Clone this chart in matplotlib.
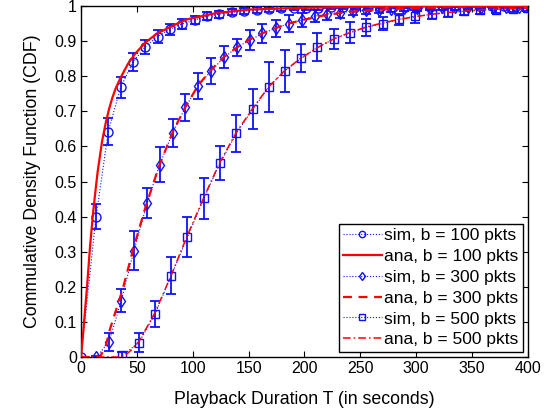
import numpy as np
import matplotlib
matplotlib.use('Agg')
import matplotlib.pyplot as plt

plt.rcParams['font.family'] = ['Liberation Sans', 'DejaVu Sans']

##Simulation points (mean CDF and half-width of error bar), b = 100 pkts
sim100_x = [0, 13.5, 24.4, 35.4, 46.5, 57.6, 68.5, 79.6, 90.7, 101.7, 112.8, 123.9,
            135.0, 146.0, 157.1, 168.2, 179.2, 190.3, 201.4, 212.4, 223.5, 234.6,
            245.6, 256.7, 267.8, 278.8, 289.9, 301.0, 312.0, 323.1, 334.2, 345.2,
            356.3, 367.4, 378.4, 389.5]
sim100_y = [0.0, 0.40, 0.642, 0.768, 0.84, 0.884, 0.913, 0.934, 0.949, 0.96, 0.971, 0.977,
            0.982, 0.986, 0.989, 0.991, 0.993, 0.994, 0.995, 0.995, 0.996, 0.996,
            0.997, 0.997, 0.997, 0.998, 0.998, 0.998, 0.998, 0.999, 0.999, 0.999,
            0.999, 0.999, 0.999, 0.999]
sim100_err = [0.0, 0.035, 0.038, 0.03, 0.026, 0.02, 0.018, 0.016, 0.014, 0.012, 0.011, 0.01,
              0.009, 0.008, 0.008, 0.007, 0.007, 0.006, 0.006, 0.006, 0.005, 0.005,
              0.005, 0.005, 0.004, 0.004, 0.004, 0.004, 0.004, 0.003, 0.003, 0.003,
              0.003, 0.003, 0.003, 0.003]

##b = 300 pkts
sim300_x = [13.7, 24.9, 36.0, 47.3, 59.2, 70.4, 82.0, 93.4, 105.0, 116.6, 128.2, 139.8,
            151.4, 162.4, 174.1, 186.0, 197.5, 209.2, 220.2, 232.0, 243.6, 255.0, 266.4,
            277.8, 289.2, 300.6, 312.0, 323.4, 334.8, 346.2, 357.6, 369.0, 380.4, 391.8]
sim300_y = [0.0, 0.042, 0.16, 0.303, 0.438, 0.548, 0.639, 0.711, 0.773, 0.816, 0.854, 0.883,
            0.903, 0.922, 0.936, 0.95, 0.96, 0.971, 0.977, 0.981, 0.986, 0.988, 0.99,
            0.992, 0.993, 0.994, 0.995, 0.996, 0.996, 0.997, 0.997, 0.998, 0.998, 0.998]
sim300_err = [0.003, 0.025, 0.033, 0.056, 0.043, 0.05, 0.04, 0.039, 0.037, 0.037, 0.031, 0.024,
              0.028, 0.027, 0.024, 0.024, 0.02, 0.017, 0.016, 0.014, 0.012, 0.011, 0.01,
              0.009, 0.008, 0.008, 0.007, 0.006, 0.006, 0.005, 0.005, 0.005, 0.004, 0.004]

##b = 500 pkts
sim500_x = [37.1, 51.8, 66.2, 80.8, 95.3, 110.0, 124.3, 139.1, 154.0, 168.3, 182.2, 197.2,
            211.6, 226.2, 240.6, 255.2, 269.9, 284.6, 299.2, 313.8, 328.0, 342.3, 357.3,
            371.6, 386.3, 399.0]
sim500_y = [0.005, 0.041, 0.122, 0.232, 0.342, 0.452, 0.552, 0.637, 0.707, 0.77, 0.815, 0.851,
            0.882, 0.906, 0.924, 0.939, 0.95, 0.962, 0.971, 0.976, 0.982, 0.985, 0.988,
            0.99, 0.991, 0.993]
sim500_err = [0.008, 0.028, 0.037, 0.052, 0.058, 0.058, 0.048, 0.053, 0.057, 0.071, 0.061, 0.04,
              0.04, 0.029, 0.03, 0.025, 0.018, 0.016, 0.018, 0.014, 0.012, 0.011, 0.011,
              0.01, 0.009, 0.008]

##Analytical curves
ana100_x = [0, 2, 5.4, 8, 10.5, 13, 15, 18.9, 22, 25, 28, 31, 35.3, 42, 48.7, 58, 68.2, 86.2,
            95, 121, 151, 200, 250, 300, 400]
ana100_y = [0, 0.07, 0.2, 0.31, 0.40, 0.475, 0.53, 0.615, 0.665, 0.705, 0.738, 0.765, 0.795,
            0.835, 0.865, 0.897, 0.922, 0.95, 0.962, 0.98, 0.99, 0.995, 0.998, 0.999, 1.0]

ana300_x = [0, 17, 22, 26, 37, 47, 58, 70, 82, 93, 105, 117, 128, 140, 151, 162, 174, 186, 198,
            220, 245, 280, 330, 400]
ana300_y = [0, 0, 0.03, 0.08, 0.19, 0.31, 0.43, 0.545, 0.64, 0.71, 0.775, 0.82, 0.855, 0.883,
            0.905, 0.922, 0.937, 0.95, 0.96, 0.975, 0.985, 0.992, 0.997, 1.0]

ana500_x = [0, 38, 45, 52, 66, 81, 95, 110, 124, 139, 154, 168, 182, 197, 212, 226, 241, 255,
            270, 285, 300, 315, 330, 345, 360, 380, 400]
ana500_y = [0, 0, 0.02, 0.045, 0.125, 0.235, 0.345, 0.455, 0.553, 0.64, 0.71, 0.77, 0.815, 0.852,
            0.882, 0.906, 0.925, 0.94, 0.952, 0.962, 0.97, 0.977, 0.982, 0.986, 0.99, 0.992, 0.994]

x_ticks = [0, 50, 100, 150, 200, 250, 300, 350, 400]
y_ticks = [0, 0.1, 0.2, 0.3, 0.4, 0.5, 0.6, 0.7, 0.8, 0.9, 1]
y_tick_labels = ['0', '0.1', '0.2', '0.3', '0.4', '0.5', '0.6', '0.7', '0.8', '0.9', '1']


def sim_series(ax, x, y, err, marker, size, label):

    ax.errorbar(x, y, yerr=err, fmt='none', ecolor='#1010ff', elinewidth=1.3,
                capsize=3.6, capthick=1.3, zorder=2)
    line, = ax.plot(x, y, color='#1010ff', linestyle=':', linewidth=0.8, marker=marker,
                    markersize=size, markerfacecolor='none', markeredgecolor='#1010ff',
                    markeredgewidth=1.0, label=label, zorder=3)
    return line


def main():

    fig = plt.figure(figsize=(5.45, 4.12), dpi=100)
    ax = fig.add_axes([0.1486, 0.1335, 0.8202, 0.8519])

    h = []
    h.append(sim_series(ax, sim100_x, sim100_y, sim100_err, 'o', 6.5, 'sim, b = 100 pkts'))
    a100, = ax.plot(ana100_x, ana100_y, color='red', linestyle='-', linewidth=1.6,
                    label='ana, b = 100 pkts', zorder=4)
    h.append(a100)
    h.append(sim_series(ax, sim300_x, sim300_y, sim300_err, 'd', 6.5, 'sim, b = 300 pkts'))
    a300, = ax.plot(ana300_x, ana300_y, color='red', linestyle=(0, (4, 3)), linewidth=1.6,
                    label='ana, b = 300 pkts', zorder=4)
    h.append(a300)
    h.append(sim_series(ax, sim500_x, sim500_y, sim500_err, 's', 5.5, 'sim, b = 500 pkts'))
    a500, = ax.plot(ana500_x, ana500_y, color='red', linestyle=(0, (5, 2, 1, 2)), linewidth=1.1,
                    label='ana, b = 500 pkts', zorder=4)
    h.append(a500)

    ax.set_xlim(0, 400)
    ax.set_ylim(0, 1)
    ax.set_xticks(x_ticks)
    ax.set_yticks(y_ticks)
    ax.set_yticklabels(y_tick_labels)
    ax.tick_params(direction='in', top=True, right=True, length=4, labelsize=11.5, pad=3)
    for spine in ax.spines.values():
        spine.set_linewidth(1.0)

    ax.set_xlabel('Playback Duration T (in seconds)', fontsize=12.8, labelpad=11)
    ax.set_ylabel('Commulative Density Function (CDF)', fontsize=12.8, labelpad=10)

    leg = ax.legend(handles=h, loc='lower right', fontsize=12.5, markerscale=0.7,
                    handlelength=2.2, handletextpad=0.15, labelspacing=0.33,
                    borderpad=0.25, borderaxespad=0.3, fancybox=False, framealpha=1,
                    edgecolor='black')
    leg.get_frame().set_linewidth(1.0)

    fig.savefig('out.png', dpi=100)


if __name__ == '__main__':

    main()
